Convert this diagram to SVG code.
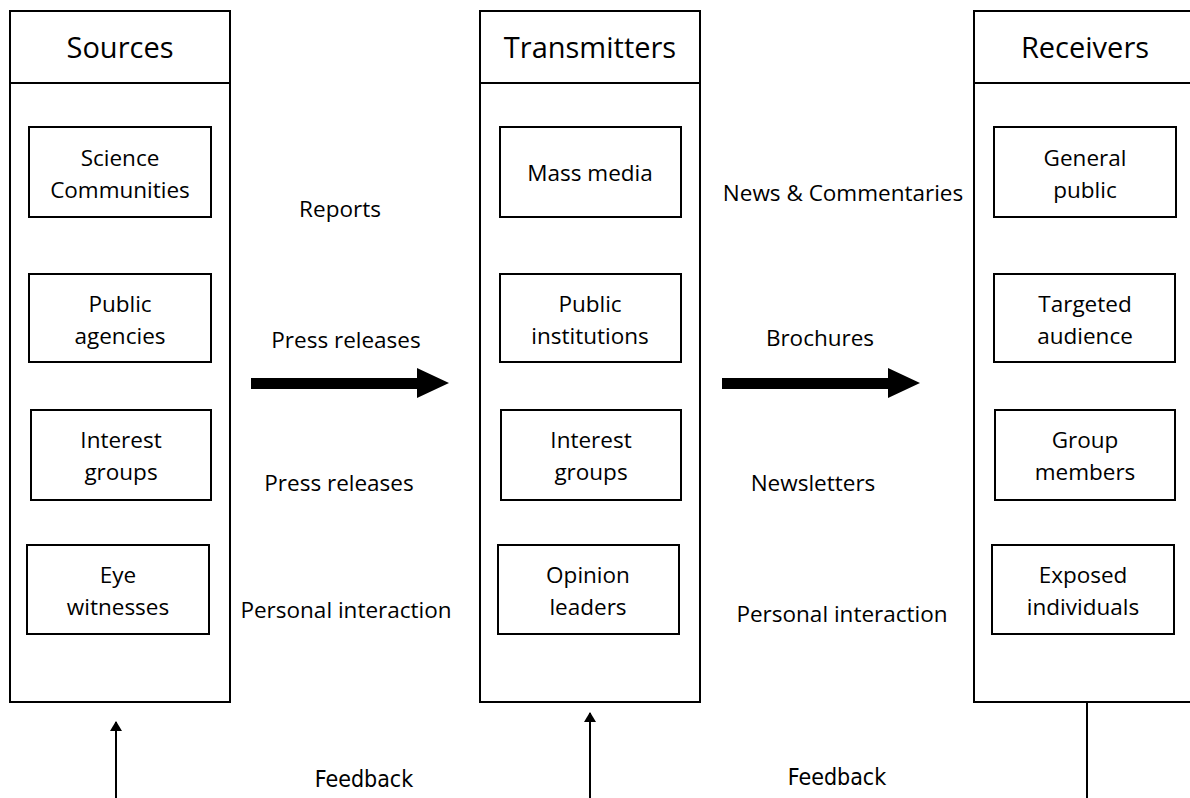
<svg xmlns="http://www.w3.org/2000/svg" width="1190" height="798" viewBox="0 0 1190 798">
<defs>
<style>
.col{fill:#fff;stroke:#000;stroke-width:2}
.box{fill:#fff;stroke:#000;stroke-width:2}
.hd{font-family:"Open Sans","Liberation Sans",sans-serif;font-size:29px;fill:#000;text-anchor:middle}
.t{font-family:"Open Sans","Liberation Sans",sans-serif;font-size:22.5px;fill:#000;text-anchor:middle}
.fb{font-family:"DejaVu Sans Condensed","DejaVu Sans",sans-serif;font-size:23px;fill:#000;text-anchor:middle}
.ln{stroke:#000;stroke-width:2;fill:none}
</style>
<marker id="ah" markerWidth="10" markerHeight="12" refX="9" refY="6" orient="auto" markerUnits="userSpaceOnUse">
<path d="M0,0 L10,6 L0,12 Z" fill="#000"/>
</marker>
</defs>
<rect width="1190" height="798" fill="#fff"/>
<g id="sources">
<rect class="col" x="10" y="11" width="220" height="691"/>
<line class="ln" x1="10" y1="83" x2="230" y2="83"/>
<text class="hd" x="120" y="57.5">Sources</text>
</g>
<g id="transmitters">
<rect class="col" x="480" y="11" width="220" height="691"/>
<line class="ln" x1="480" y1="83" x2="700" y2="83"/>
<text class="hd" x="590" y="57.5">Transmitters</text>
</g>
<g id="receivers">
<rect class="col" x="974" y="11" width="230" height="691"/>
<line class="ln" x1="974" y1="83" x2="1190" y2="83"/>
<text class="hd" x="1085" y="57.5">Receivers</text>
</g>
<g id="science-communities"><rect class="box" x="29" y="127" width="182" height="90"/><text class="t" x="120" y="166">Science</text><text class="t" x="120" y="198">Communities</text></g>
<g id="public-agencies"><rect class="box" x="29" y="274" width="182" height="88"/><text class="t" x="120" y="312">Public</text><text class="t" x="120" y="344">agencies</text></g>
<g id="interest-groups-1"><rect class="box" x="31" y="410" width="180" height="90"/><text class="t" x="121" y="448">Interest</text><text class="t" x="121" y="480">groups</text></g>
<g id="eye-witnesses"><rect class="box" x="27" y="545" width="182" height="89"/><text class="t" x="118" y="583">Eye</text><text class="t" x="118" y="615">witnesses</text></g>
<g id="mass-media"><rect class="box" x="500" y="127" width="181" height="90"/><text class="t" x="590" y="181">Mass media</text></g>
<g id="public-institutions"><rect class="box" x="500" y="274" width="181" height="88"/><text class="t" x="590" y="312">Public</text><text class="t" x="590" y="344">institutions</text></g>
<g id="interest-groups-2"><rect class="box" x="501" y="410" width="180" height="90"/><text class="t" x="591" y="448">Interest</text><text class="t" x="591" y="480">groups</text></g>
<g id="opinion-leaders"><rect class="box" x="498" y="545" width="181" height="89"/><text class="t" x="588" y="583">Opinion</text><text class="t" x="588" y="615">leaders</text></g>
<g id="general-public"><rect class="box" x="994" y="127" width="182" height="90"/><text class="t" x="1085" y="166">General</text><text class="t" x="1085" y="198">public</text></g>
<g id="targeted-audience"><rect class="box" x="994" y="274" width="181" height="88"/><text class="t" x="1085" y="312">Targeted</text><text class="t" x="1085" y="344">audience</text></g>
<g id="group-members"><rect class="box" x="995" y="410" width="180" height="90"/><text class="t" x="1085" y="448">Group</text><text class="t" x="1085" y="480">members</text></g>
<g id="exposed-individuals"><rect class="box" x="992" y="545" width="182" height="89"/><text class="t" x="1083" y="583">Exposed</text><text class="t" x="1083" y="615">individuals</text></g>
<g id="labels">
<text class="t" x="340" y="217">Reports</text>
<text class="t" x="346" y="348">Press releases</text>
<text class="t" x="339" y="491">Press releases</text>
<text class="t" x="346" y="618">Personal interaction</text>
<text class="t" x="843" y="201">News &amp; Commentaries</text>
<text class="t" x="820" y="346">Brochures</text>
<text class="t" x="813" y="491">Newsletters</text>
<text class="t" x="842" y="622">Personal interaction</text>
<text class="fb" x="364" y="787">Feedback</text>
<text class="fb" x="837" y="785">Feedback</text>
</g>
<g id="connectors">
<path d="M251,378 H417 V368 L449,383 L417,398 V389 H251 Z" fill="#000"/>
<path d="M722,378 H888 V368 L920,383 L888,398 V389 H722 Z" fill="#000"/>
<line class="ln" x1="116" y1="798" x2="116" y2="722" marker-end="url(#ah)"/>
<line class="ln" x1="590" y1="798" x2="590" y2="713" marker-end="url(#ah)"/>
<line class="ln" x1="1087" y1="702" x2="1087" y2="798"/>
</g>
</svg>
